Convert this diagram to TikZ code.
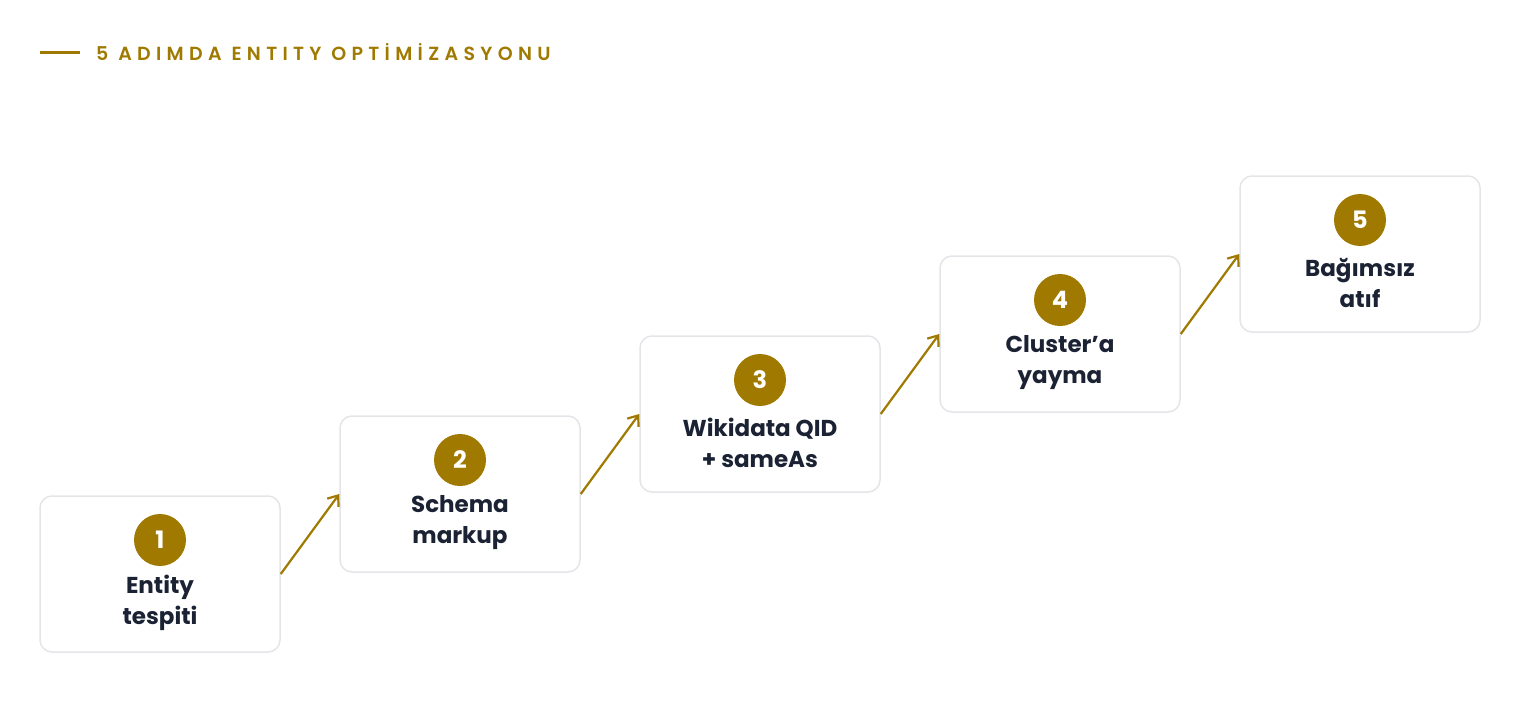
\documentclass[tikz,border=0pt]{standalone}
\usepackage{fontspec}
\setmainfont{Poppins}
\newfontfamily\titlefont[LetterSpace=28]{Poppins SemiBold}
\usetikzlibrary{arrows.meta}
\definecolor{gold}{HTML}{A07A00}
\definecolor{ink}{HTML}{1A2233}
\definecolor{edge}{HTML}{E3E5E8}
\tikzset{
  x=1pt,y=-1pt,
  stepbox/.style={draw=edge,line width=1.5pt,rounded corners=12pt,fill=white,minimum width=240pt,minimum height=156pt,inner sep=0pt},
  num/.style={circle,fill=gold,minimum size=52pt,inner sep=0pt,text=white,font=\fontsize{24}{24}\selectfont\bfseries},
  lbl/.style={text=ink,align=center,font=\fontsize{23}{31}\selectfont\bfseries},
  conn/.style={draw=gold,line width=2.2pt,-{Straight Barb[length=9pt,width=14pt,line width=2.2pt]}}
}
\begin{document}
\begin{tikzpicture}
\useasboundingbox (0,0) rectangle (1520,720);
\coordinate (t1) at (40,52); \coordinate (t2) at (80,52);
\draw[gold,line width=3pt] (t1) -- (t2);
\node[anchor=west,text=gold,font=\titlefont\fontsize{19}{19}\selectfont,inner sep=0pt] (title) at (96,52) {5 ADIMDA ENTITY OPTİMİZASYONU};
\foreach \i/\x/\y/\a/\b in {1/160/574/Entity/tespiti,2/460/494/Schema/markup,3/760/414/Wikidata QID/+ sameAs,4/1060/334/Cluster'a/yayma,5/1360/254/Bağımsız/atıf}{
  \node[stepbox] (b\i) at (\x,\y) {};
  \node[num] (n\i) at (\x,\y-34) {\i};
  \node[lbl] (l\i) at (\x,\y+29) {\a\\\b};
}
\foreach \i/\j in {1/2,2/3,3/4,4/5}{\draw[conn] (b\i.east) -- (b\j.west);}
\end{tikzpicture}
\end{document}
